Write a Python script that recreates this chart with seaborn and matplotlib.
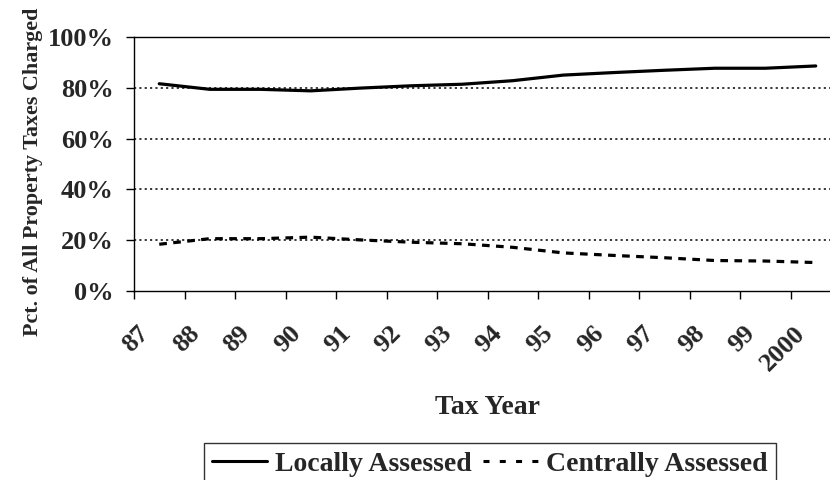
import matplotlib
matplotlib.use("Agg")
import matplotlib.pyplot as plt
import matplotlib.transforms as mtransforms
import seaborn as sns
import pandas as pd
import numpy as np
from matplotlib.lines import Line2D

years = ["87", "88", "89", "90", "91", "92", "93", "94", "95", "96", "97", "98", "99", "2000"]
locally = [81.6, 79.4, 79.4, 78.8, 79.9, 80.8, 81.4, 82.8, 85.0, 86.0, 86.9, 87.7, 87.7, 88.6]
centrally = [18.4, 20.6, 20.6, 21.2, 20.1, 19.2, 18.6, 17.2, 15.0, 14.0, 13.1, 12.0, 11.8, 11.2]
series_names = ["Locally Assessed", "Centrally Assessed"]
yticks = [0, 20, 40, 60, 80, 100]

sns.set_theme(style="white")
plt.rcParams['font.family'] = ['Liberation Serif', 'DejaVu Serif']
plt.rcParams['font.weight'] = 'bold'

df = pd.DataFrame({"year": years * 2,
                   "value": locally + centrally,
                   "series": [series_names[0]] * len(years) + [series_names[1]] * len(years)})

fig = plt.figure(figsize=(8.3, 4.8), dpi=100)
L, R, T, B = 134, 841, 37, 291
ax = fig.add_axes([L/830, 1 - B/480, (R - L)/830, (B - T)/480])

LW = 2.3
sns.lineplot(data=df[df.series == series_names[0]], x="year", y="value", ax=ax,
             color="black", linewidth=LW, legend=False, sort=False)
sns.lineplot(data=df[df.series == series_names[1]], x="year", y="value", ax=ax,
             color="black", linewidth=LW, legend=False, sort=False,
             linestyle=(0, (2.4, 2.0)))

ax.set_xlim(-0.5, len(years) - 0.5)
ax.set_ylim(0, 100)
for y in [20, 40, 60, 80]:
    ax.axhline(y, color="black", linewidth=1.1, linestyle=(0, (1.4, 2.1)), zorder=0)

ax.set_yticks(yticks)
ax.set_yticklabels([f"{v}%" for v in yticks], fontsize=19, fontweight="bold")
ax.tick_params(axis="y", direction="out", length=5.8, width=1, color="black", left=True, pad=9)

ax.set_xticks(np.arange(-0.5, len(years) + 0.5, 1.0))
ax.set_xticklabels([])
ax.set_xticks(np.arange(len(years)), minor=True)
ax.set_xticklabels(years, minor=True, rotation=45, ha="right", va="center",
                   rotation_mode="anchor", fontsize=19, fontweight="bold")
ax.tick_params(axis="x", which="major", direction="out", length=5.8, width=1, color="black", bottom=True)
ax.tick_params(axis="x", which="minor", length=0, pad=28)
offset = mtransforms.ScaledTranslation(-10/72, 0, fig.dpi_scale_trans)
for lab in ax.get_xticklabels(minor=True):
    lab.set_transform(lab.get_transform() + offset)

for s in ["left", "bottom", "top"]:
    ax.spines[s].set_visible(True)
    ax.spines[s].set_color("black")
    ax.spines[s].set_linewidth(1.0)
ax.spines["right"].set_visible(False)

ax.set_xlabel("Tax Year", fontsize=20, fontweight="bold")
ax.xaxis.set_label_coords(0.5, -(395 - B) / (B - T))
ax.xaxis.label.set_va("top")
ax.set_ylabel("Pct. of All Property Taxes Charged", fontsize=15.8, fontweight="bold")
ax.yaxis.set_label_coords((43 - L) / (R - L), (B - 172) / (B - T))

handles = [Line2D([], [], color="black", linewidth=2.2),
           Line2D([], [], color="black", linewidth=2.2, linestyle=(0, (1.96, 3.37)))]
leg = fig.legend(handles, series_names, ncol=2,
                 loc="upper center", bbox_to_anchor=(490/830, 1 - 443/480),
                 prop={"size": 20, "weight": "bold"}, frameon=True, fancybox=False,
                 edgecolor="black", handlelength=1.98, handletextpad=0.3, columnspacing=0.4,
                 borderpad=0.3, borderaxespad=0)
leg.get_frame().set_linewidth(1.0)

fig.savefig("out.png", dpi=100)
